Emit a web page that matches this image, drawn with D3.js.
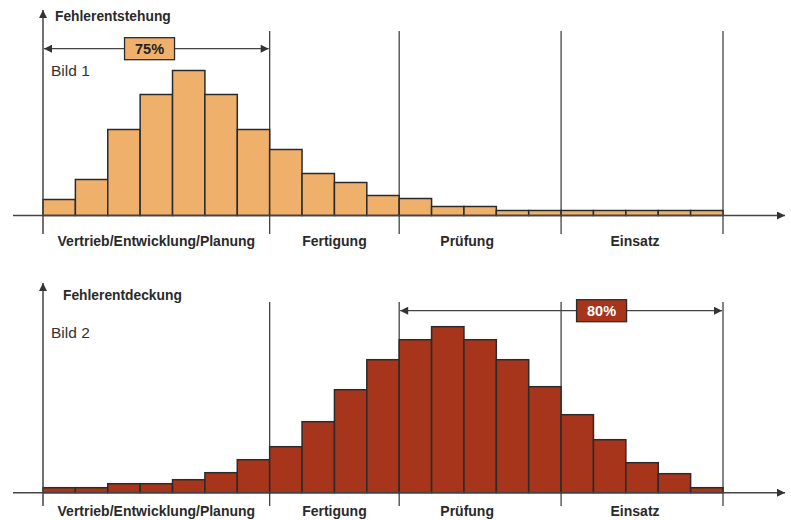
<!DOCTYPE html>
<html><head><meta charset="utf-8">
<script src="https://cdn.jsdelivr.net/npm/d3@7"></script>
<style>body{margin:0;background:#fff}svg{display:block}text{font-family:"Liberation Sans",Arial,sans-serif}</style>
</head><body><svg id="c" width="791" height="520"></svg>
<script>
const bins = d3.range(21);
const entstehung = [16,36,86,121,145,121,86,66,42,33,20,17,9,9,5,5,5,5,5,5,5];
const entdeckung = [5,5,9,9,13,20,33,46,71,103,133,153,166,153,133,106,78,53,30,19,5];
const phases = ["Vertrieb/Entwicklung/Planung","Fertigung","Prüfung","Einsatz"];
const phaseStarts = [0,7,11,16];
const phaseEnds = [7,11,16,21];
const titles = ["Fehlerentstehung","Fehlerentdeckung"];
const bildLabels = ["Bild 1","Bild 2"];
const spanLabels = ["75%","80%"];
const spanFrom = [0,11];
const spanTo = [7,21];

const svg = d3.select("#c");
const defs = svg.append("defs");
defs.append("marker").attr("id","ah").attr("viewBox","0 0 10 10").attr("refX",10).attr("refY",5)
  .attr("markerWidth",10).attr("markerHeight",8).attr("markerUnits","userSpaceOnUse").attr("orient","auto-start-reverse")
  .append("path").attr("d","M0,0L10,5L0,10Z").attr("fill","#333");

const x = d3.scaleBand().domain(bins).range([43,723]).padding(0);
const xb = i => i<21 ? x(i) : x.range()[1];

const panels = [
  {vals:entstehung, base:215.5, fill:"#EFB06C", txt:"#222", top:10, lineTop:31, bottom:234, titleY:21, titleX:55, bildY:76, spanY:48.7, boxFrac:0.47, boxW:50, labY:246},
  {vals:entdeckung, base:492.7, fill:"#A6351B", txt:"#fff", top:283, lineTop:302, bottom:506, titleY:300, titleX:63, bildY:338, spanY:310.7, boxFrac:0.625, boxW:50, labY:515.5}
];
const labDx = [0,0,-13,-7];

panels.forEach((p,k)=>{
  const g = svg.append("g");
  const y = d3.scaleLinear().domain([0,150]).range([p.base,p.base-150]);
  g.selectAll("line.ph").data(phaseEnds).join("line")
    .attr("x1",d=>xb(d)).attr("x2",d=>xb(d)).attr("y1",p.lineTop).attr("y2",p.bottom)
    .attr("stroke","#444").attr("stroke-width",1.3);
  g.selectAll("rect.bar").data(p.vals).join("rect")
    .attr("x",(d,i)=>x(i)).attr("width",x.bandwidth())
    .attr("y",d=>y(d)).attr("height",d=>y(0)-y(d))
    .attr("fill",p.fill).attr("stroke","#2b2b2b").attr("stroke-width",1.5);
  g.append("line").attr("x1",13).attr("x2",785).attr("y1",p.base).attr("y2",p.base)
    .attr("stroke","#444").attr("stroke-width",1.5).attr("marker-end","url(#ah)");
  g.append("line").attr("x1",43).attr("x2",43).attr("y1",p.bottom).attr("y2",p.top)
    .attr("stroke","#444").attr("stroke-width",1.5).attr("marker-end","url(#ah)");
  g.append("text").attr("x",p.titleX).attr("y",p.titleY).attr("font-size",13.8).attr("font-weight","bold")
    .attr("fill","#2a2a2a").text(titles[k]);
  g.append("text").attr("x",51).attr("y",p.bildY).attr("font-size",15.5).attr("fill","#333").text(bildLabels[k]);
  g.selectAll("text.pl").data(phases).join("text")
    .attr("x",(d,i)=>(xb(phaseStarts[i])+xb(phaseEnds[i]))/2+labDx[i]).attr("y",p.labY)
    .attr("text-anchor","middle").attr("font-size",14).attr("font-weight","bold").attr("fill","#2a2a2a").text(d=>d);
  const x0 = xb(spanFrom[k]), x1 = xb(spanTo[k]);
  g.append("line").attr("x1",x0+1).attr("x2",x1-1).attr("y1",p.spanY).attr("y2",p.spanY)
    .attr("stroke","#444").attr("stroke-width",1.3)
    .attr("marker-start","url(#ah)").attr("marker-end","url(#ah)");
  const bc = x0 + (x1-x0)*p.boxFrac;
  g.append("rect").attr("x",bc-p.boxW/2).attr("y",p.spanY-11).attr("width",p.boxW).attr("height",22)
    .attr("fill",p.fill).attr("stroke","#2b2b2b").attr("stroke-width",1.3);
  g.append("text").attr("x",bc).attr("y",p.spanY+5).attr("text-anchor","middle")
    .attr("font-size",14.5).attr("font-weight","bold").attr("fill",p.txt).text(spanLabels[k]);
});
</script></body></html>
